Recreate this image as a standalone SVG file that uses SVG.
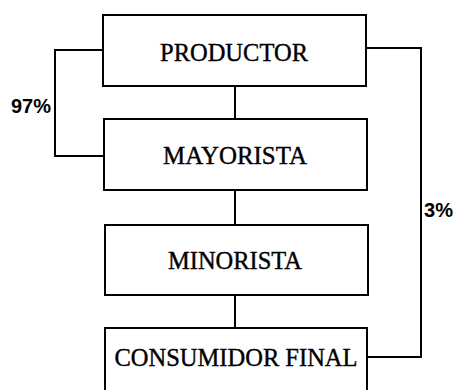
<svg xmlns="http://www.w3.org/2000/svg" width="455" height="390" viewBox="0 0 455 390">
<style>
.box{fill:#fff;stroke:#000;stroke-width:2}
.lbl{font-family:"Liberation Serif","Times New Roman",serif;font-size:26px;text-anchor:middle;fill:#000;stroke:#000;stroke-width:0.4}
.pct{font-family:"Liberation Sans",Arial,sans-serif;font-size:20px;font-weight:bold;fill:#000}
.con{fill:none;stroke:#000;stroke-width:2}
</style>
<rect width="455" height="390" fill="#fff"/>
<g id="connectors">
<path class="con" d="M103 50 H55 V156 H103"/>
<path class="con" d="M366 48 H421 V357 H367"/>
<path class="con" d="M235 86 V119"/>
<path class="con" d="M235 190 V225"/>
<path class="con" d="M235 295 V328"/>
</g>
<g id="productor">
<rect class="box" x="103" y="15" width="263" height="71"/>
<text class="lbl" x="234" y="61" textLength="148" lengthAdjust="spacingAndGlyphs">PRODUCTOR</text>
</g>
<g id="mayorista">
<rect class="box" x="104" y="119" width="263" height="71"/>
<text class="lbl" x="235" y="164" textLength="144" lengthAdjust="spacingAndGlyphs">MAYORISTA</text>
</g>
<g id="minorista">
<rect class="box" x="105" y="225" width="263" height="70"/>
<text class="lbl" x="235" y="269" textLength="134" lengthAdjust="spacingAndGlyphs">MINORISTA</text>
</g>
<g id="consumidor">
<rect class="box" x="105" y="328" width="262" height="66"/>
<text class="lbl" x="236" y="366" textLength="243" lengthAdjust="spacingAndGlyphs">CONSUMIDOR FINAL</text>
</g>
<g id="labels">
<text class="pct" x="11" y="113" textLength="40" lengthAdjust="spacingAndGlyphs">97%</text>
<text class="pct" x="424" y="217" textLength="29" lengthAdjust="spacingAndGlyphs">3%</text>
</g>
</svg>
